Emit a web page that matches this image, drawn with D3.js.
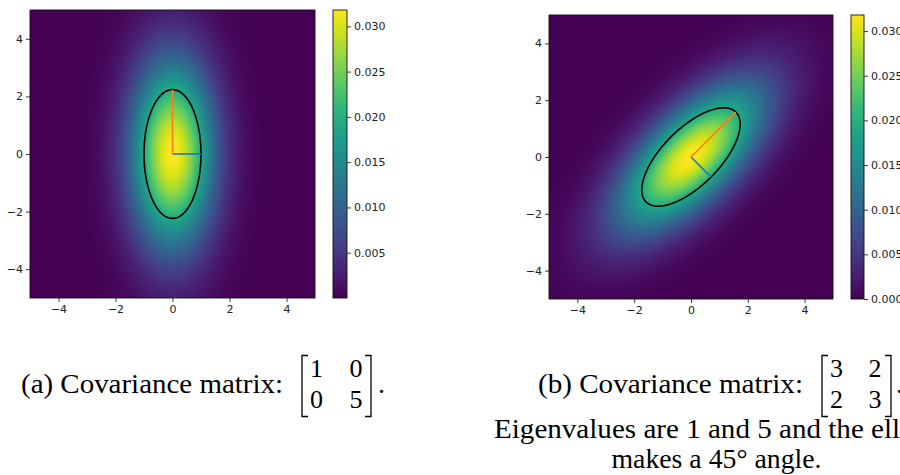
<!DOCTYPE html>
<html><head><meta charset="utf-8">
<script src="https://cdn.jsdelivr.net/npm/d3@7"></script>
<style>html,body{margin:0;padding:0;background:#fff;}svg{display:block;}</style>
</head><body>
<svg id="chart" width="900" height="475"></svg>
<script>
// ---------- data ----------
const axisDomain = [-5, 5];
const axisTicks = [-4, -2, 0, 2, 4];
const covA = [[1, 0], [0, 5]];
const covB = [[3, 2], [2, 3]];
const eigenvalues = [1, 5];                       // same for both matrices
const eigvecsA = [[1, 0], [0, 1]];                // vector for eigenvalue 1, vector for eigenvalue 5
const eigvecsB = [[0.7071, -0.7071], [0.7071, 0.7071]];
const peakDensity = 0.0318;                       // colour-bar maximum
const cbTicksA = [0.005, 0.010, 0.015, 0.020, 0.025, 0.030];
const cbTicksB = [0.000, 0.005, 0.010, 0.015, 0.020, 0.025, 0.030];
const captionA = "(a) Covariance matrix:";
const captionB = "(b) Covariance matrix:";
const captionBLine2 = "Eigenvalues are 1 and 5 and the ellipse";
const captionBLine3 = "makes a 45\u00B0 angle.";

// ---------- layout ----------
const panels = [
  {cov: covA, vecs: eigvecsA, cbTicks: cbTicksA,
   plot: {x0: 30, x1: 315, y0: 10, y1: 298}, cb: {x0: 333, x1: 347},
   cap: {x: 21, w: 262, br0: 302, br1: 371, c1: 316.5, c2: 356, dot: 378}},
  {cov: covB, vecs: eigvecsB, cbTicks: cbTicksB,
   plot: {x0: 549, x1: 833, y0: 15, y1: 299}, cb: {x0: 851, x1: 864},
   cap: {x: 538, w: 265, br0: 822, br1: 891, c1: 836.5, c2: 875, dot: 896}}
];
const blue = "#1f77b4", orange = "#ff7f0e";
const tickFont = "DejaVu Sans, sans-serif";
const serif = "Liberation Serif, Times New Roman, serif";

const svg = d3.select("#chart");
const defs = svg.append("defs");
const color = d3.scaleSequential(d3.interpolateViridis).domain([0, peakDensity]);

// colour-bar gradient
const grad = defs.append("linearGradient").attr("id", "viridis")
  .attr("x1", 0).attr("y1", 1).attr("x2", 0).attr("y2", 0);
d3.range(0, 1.0001, 0.05).forEach(t => grad.append("stop")
  .attr("offset", t).attr("stop-color", d3.interpolateViridis(t)));

function inv2(m) {
  const det = m[0][0] * m[1][1] - m[0][1] * m[1][0];
  return [[m[1][1] / det, -m[0][1] / det], [-m[1][0] / det, m[0][0] / det]];
}

panels.forEach((p, k) => {
  const P = p.plot;
  const x = d3.scaleLinear().domain(axisDomain).range([P.x0, P.x1]);
  const y = d3.scaleLinear().domain(axisDomain).range([P.y1, P.y0]);
  const g = svg.append("g");

  // heat map
  const w = Math.round(P.x1 - P.x0), h = Math.round(P.y1 - P.y0);
  const cv = document.createElement("canvas");
  cv.width = w; cv.height = h;
  const ctx = cv.getContext("2d");
  const img = ctx.createImageData(w, h);
  const S = inv2(p.cov);
  for (let j = 0; j < h; j++) {
    const dy = y.invert(P.y0 + j + 0.5);
    for (let i = 0; i < w; i++) {
      const dx = x.invert(P.x0 + i + 0.5);
      const q = dx * (S[0][0] * dx + S[0][1] * dy) + dy * (S[1][0] * dx + S[1][1] * dy);
      const c = d3.rgb(color(peakDensity * Math.exp(-q / 2)));
      const o = (j * w + i) * 4;
      img.data[o] = c.r; img.data[o + 1] = c.g; img.data[o + 2] = c.b; img.data[o + 3] = 255;
    }
  }
  ctx.putImageData(img, 0, 0);
  g.append("image").attr("x", P.x0).attr("y", P.y0).attr("width", w).attr("height", h)
    .attr("preserveAspectRatio", "none").attr("href", cv.toDataURL());

  // ellipse (1 standard deviation)
  const v1 = p.vecs[0], v2 = p.vecs[1];
  const r1 = Math.sqrt(eigenvalues[0]), r2 = Math.sqrt(eigenvalues[1]);
  const pts = d3.range(0, 360, 1).map(a => {
    const t = a * Math.PI / 180;
    return [r1 * Math.cos(t) * v1[0] + r2 * Math.sin(t) * v2[0],
            r1 * Math.cos(t) * v1[1] + r2 * Math.sin(t) * v2[1]];
  });
  const line = d3.line().x(d => x(d[0])).y(d => y(d[1]));
  g.append("path").attr("d", line.curve(d3.curveLinearClosed)(pts))
    .attr("fill", "none").attr("stroke", "#000").attr("stroke-width", 1.6);
  const line2 = d3.line().x(d => x(d[0])).y(d => y(d[1]));
  g.append("path").attr("d", line2([[0, 0], [r1 * v1[0], r1 * v1[1]]]))
    .attr("stroke", blue).attr("stroke-width", 1.6).attr("fill", "none");
  g.append("path").attr("d", line2([[0, 0], [r2 * v2[0], r2 * v2[1]]]))
    .attr("stroke", orange).attr("stroke-width", 1.6).attr("fill", "none");

  // spines
  g.append("rect").attr("x", P.x0).attr("y", P.y0).attr("width", P.x1 - P.x0).attr("height", P.y1 - P.y0)
    .attr("fill", "none").attr("stroke", "#111").attr("stroke-width", 0.9);

  // axes
  const ax = g.append("g").attr("transform", `translate(0,${P.y1})`)
    .call(d3.axisBottom(x).tickValues(axisTicks).tickSize(4).tickPadding(3));
  const ay = g.append("g").attr("transform", `translate(${P.x0},0)`)
    .call(d3.axisLeft(y).tickValues(axisTicks).tickSize(4).tickPadding(3));
  [ax, ay].forEach(a => {
    a.select(".domain").remove();
    a.selectAll("text").attr("font-family", tickFont).attr("font-size", 11).attr("fill", "#222");
    a.selectAll("line").attr("stroke", "#222").attr("stroke-width", 0.9);
  });

  // colour bar
  const cb = p.cb;
  const cy = d3.scaleLinear().domain([0, peakDensity]).range([P.y1, P.y0]);
  g.append("rect").attr("x", cb.x0).attr("y", P.y0).attr("width", cb.x1 - cb.x0).attr("height", P.y1 - P.y0)
    .attr("fill", "url(#viridis)").attr("stroke", "#111").attr("stroke-width", 0.9);
  const ac = g.append("g").attr("transform", `translate(${cb.x1},0)`)
    .call(d3.axisRight(cy).tickValues(p.cbTicks).tickFormat(d3.format(".3f")).tickSize(4).tickPadding(3));
  ac.select(".domain").remove();
  ac.selectAll("text").attr("font-family", tickFont).attr("font-size", 11).attr("fill", "#222");
  ac.selectAll("line").attr("stroke", "#222").attr("stroke-width", 0.9);

  // caption
  const C = p.cap;
  const cg = svg.append("g").attr("font-family", serif).attr("fill", "#000");
  cg.append("text").attr("x", C.x).attr("y", 393).attr("font-size", 28)
    .attr("textLength", C.w).attr("lengthAdjust", "spacingAndGlyphs")
    .text(k === 0 ? captionA : captionB);
  const mat = p.cov;
  [[377, 0], [407.5, 1]].forEach(([by, r]) => {
    cg.append("text").attr("x", C.c1).attr("y", by).attr("font-size", 26).attr("text-anchor", "middle").text(mat[r][0]);
    cg.append("text").attr("x", C.c2).attr("y", by).attr("font-size", 26).attr("text-anchor", "middle").text(mat[r][1]);
  });
  const bt = 355.5, bb = 416.5, sw = 6;
  cg.append("path").attr("d", `M${C.br0 + sw},${bt}H${C.br0}V${bb}H${C.br0 + sw}`)
    .attr("fill", "none").attr("stroke", "#000").attr("stroke-width", 1.3);
  cg.append("path").attr("d", `M${C.br1 - sw},${bt}H${C.br1}V${bb}H${C.br1 - sw}`)
    .attr("fill", "none").attr("stroke", "#000").attr("stroke-width", 1.3);
  cg.append("text").attr("x", C.dot).attr("y", 393).attr("font-size", 28).text(".");
  if (k === 1) {
    cg.append("text").attr("x", 494).attr("y", 438).attr("font-size", 28)
      .attr("textLength", 453).attr("lengthAdjust", "spacingAndGlyphs").text(captionBLine2);
    cg.append("text").attr("x", 611.5).attr("y", 468).attr("font-size", 28)
      .attr("textLength", 210).attr("lengthAdjust", "spacingAndGlyphs").text(captionBLine3);
  }
});
</script>
</body></html>
